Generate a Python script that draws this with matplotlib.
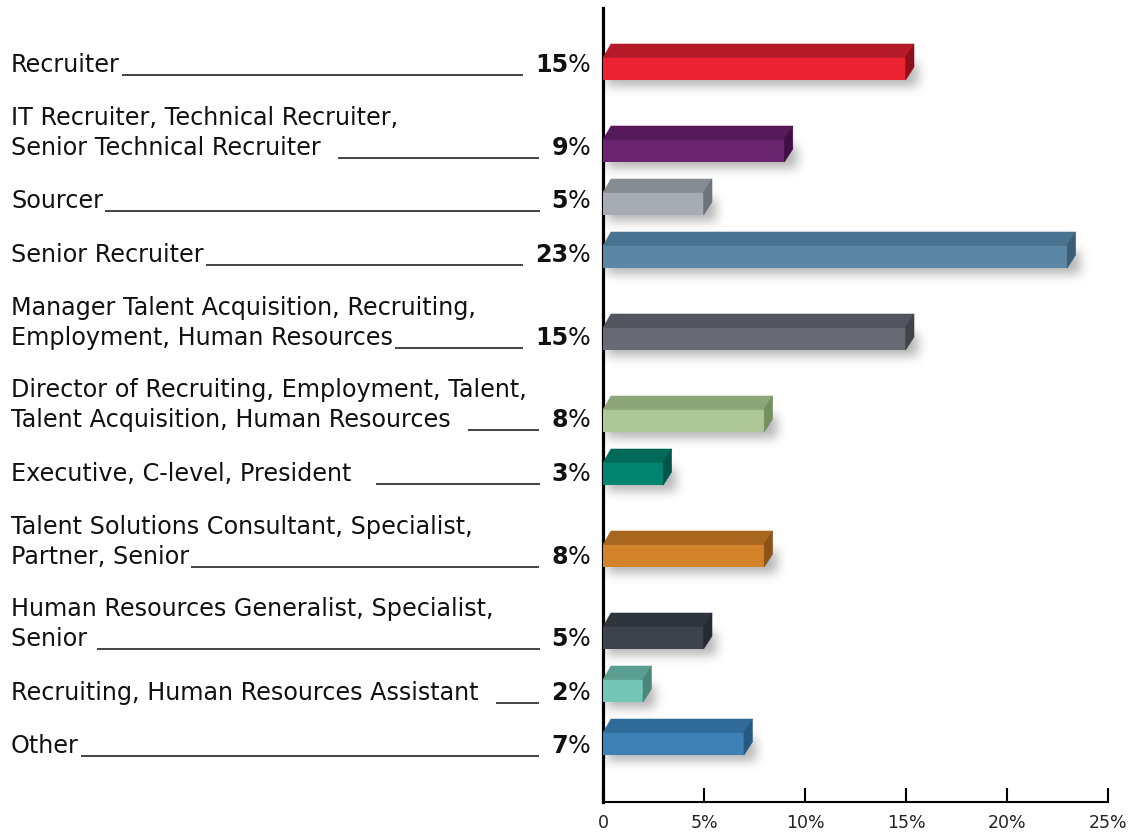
import numpy as np
import matplotlib.pyplot as plt
import matplotlib.transforms as mtransforms
from matplotlib.patches import Polygon

# ---- data ----
labels = [
    "Recruiter",
    "IT Recruiter, Technical Recruiter,\nSenior Technical Recruiter  ",
    "Sourcer",
    "Senior Recruiter",
    "Manager Talent Acquisition, Recruiting,\nEmployment, Human Resources",
    "Director of Recruiting, Employment, Talent,\nTalent Acquisition, Human Resources  ",
    "Executive, C-level, President   ",
    "Talent Solutions Consultant, Specialist,\nPartner, Senior",
    "Human Resources Generalist, Specialist,\nSenior ",
    "Recruiting, Human Resources Assistant  ",
    "Other",
]
values = [15, 9, 5, 23, 15, 8, 3, 8, 5, 2, 7]
front_colors = ["#ED2233", "#6B246E", "#A7ABB2", "#5B87A4", "#676A73", "#ADC896",
                "#00846F", "#D2832A", "#3D434C", "#74C6B5", "#3C80B6"]
top_colors = ["#B41A27", "#561A5A", "#878B92", "#4A7390", "#52555D", "#8DA679",
              "#006A59", "#A8661F", "#30353D", "#5A9E90", "#306B9A"]
side_colors = ["#8E0F1B", "#3F0F45", "#6E727A", "#3B5E77", "#404349", "#758F5F",
               "#00564A", "#8A5318", "#262A31", "#4A8679", "#275A82"]
tick_values = [0, 5, 10, 15, 20, 25]
tick_labels = ["0", "5%", "10%", "15%", "20%", "25%"]

# ---- layout (pixel based) ----
W, H = 1135, 833
X0, X1 = 603, 1108          # axis 0 and 25 %
Y_TOP, Y_AX = 8, 802
PX = 25 / (X1 - X0)         # percent per pixel
BAR_H = 23
DX, DY = 8 * PX, 13         # 3d depth
LINE = 30

n_lines = [lab.count("\n") + 1 for lab in labels]
centers = []
c = 68.5
for i, n in enumerate(n_lines):
    if i > 0:
        c += 53 + 29 * (n - 1)
    centers.append(c)

fig = plt.figure(figsize=(W / 100, H / 100), dpi=100)
ax = fig.add_axes([X0 / W, (H - Y_AX) / H, (X1 - X0) / W, (Y_AX - Y_TOP) / H])


def gauss_blur(a, sigma):
    r = int(3 * sigma)
    k = np.exp(-0.5 * (np.arange(-r, r + 1) / sigma) ** 2)
    k /= k.sum()
    a = np.apply_along_axis(lambda m: np.convolve(m, k, mode="same"), 0, a)
    a = np.apply_along_axis(lambda m: np.convolve(m, k, mode="same"), 1, a)
    return a


for v, yc, fc, tc, sc in zip(values, centers, front_colors, top_colors, side_colors):
    top = yc - BAR_H / 2
    bot = yc + BAR_H / 2
    # soft drop shadow
    pad = 20
    wpx = int(round(v / PX)) + 8
    mask = np.zeros((BAR_H + 2 * pad, wpx + 2 * pad))
    mask[pad + 6:pad + 6 + BAR_H, pad + 4:pad + 4 + wpx] = 1
    blur = gauss_blur(mask, 5.5)
    rgba = np.zeros(mask.shape + (4,))
    rgba[..., 3] = 0.30 * blur
    ax.imshow(rgba, extent=(-pad * PX, (wpx + pad) * PX, bot + pad, top - pad),
              origin="upper", aspect="auto", interpolation="bilinear", zorder=1)
    ax.barh(yc, v, height=BAR_H, color=fc, lw=0, zorder=3)
    ax.add_patch(Polygon([(0, top + 0.6), (DX, top - DY), (v + DX, top - DY), (v, top + 0.6)],
                         closed=True, facecolor=tc, edgecolor=tc, lw=0.4, zorder=3))
    ax.add_patch(Polygon([(v - 0.02, top), (v + DX, top - DY), (v + DX, bot - DY), (v - 0.02, bot)],
                         closed=True, facecolor=sc, edgecolor=sc, lw=0.4, zorder=3))

ax.set_xlim(0, 25)
ax.set_ylim(Y_AX, Y_TOP)
ax.set_yticks([])
ax.set_xticks(tick_values)
ax.set_xticklabels(tick_labels)
ax.tick_params(axis="x", direction="in", length=10, width=1.5, pad=9,
               labelsize=12.5, labelcolor="#222222")
for s in ("top", "right"):
    ax.spines[s].set_visible(False)
ax.spines["left"].set_linewidth(2.3)
ax.spines["bottom"].set_linewidth(1.5)

# ---- left labels, values and leaders ----
trans = mtransforms.blended_transform_factory(fig.transFigure, ax.transData)
renderer = fig.canvas.get_renderer()
FS = 17.2
for lab, v, yc in zip(labels, values, centers):
    base = 72 + (yc - centers[0]) * 1.0096
    lines = lab.split("\n")
    last = None
    for k, ln in enumerate(lines):
        yy = base - LINE * (len(lines) - 1 - k)
        last = ax.text(11 / W, yy, ln, transform=trans, ha="left", va="baseline",
                       fontsize=FS, color="#111111", clip_on=False)
    num = ax.text(568 / W, base, str(v), transform=trans, ha="right", va="baseline",
                  fontsize=FS, fontweight="bold", color="#111111", clip_on=False)
    ax.text(568 / W, base, "%", transform=trans, ha="left", va="baseline",
            fontsize=FS, color="#111111", clip_on=False)
    x_start = last.get_window_extent(renderer).x1 + 2
    x_end = num.get_window_extent(renderer).x0 - 12
    ax.plot([x_start / W, x_end / W], [base + 3, base + 3], transform=trans,
            color="#111111", lw=1.1, clip_on=False, solid_capstyle="butt")

fig.savefig("out.png", dpi=100)
